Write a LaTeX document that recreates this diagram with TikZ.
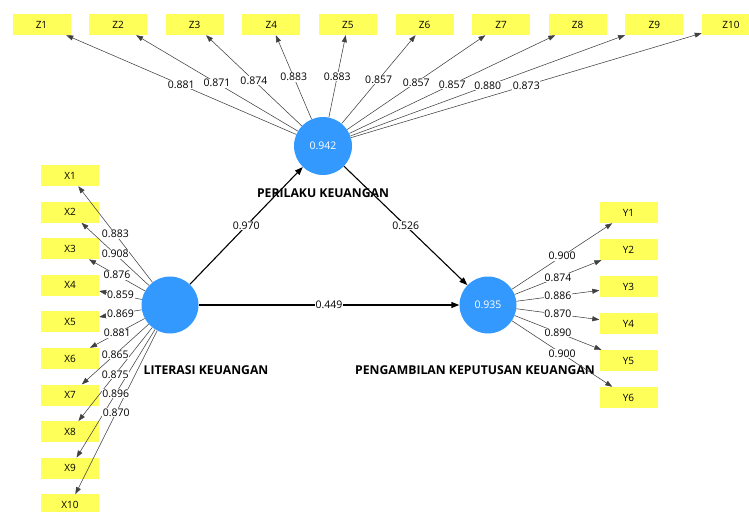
\documentclass[tikz,border=0pt]{standalone}
\usepackage{fontspec}
\setmainfont{Open Sans}
\usetikzlibrary{arrows.meta}
\definecolor{lvblue}{RGB}{51,153,255}
\definecolor{mvyellow}{RGB}{255,255,90}
\begin{document}
\begin{tikzpicture}[x=1pt,y=-1pt,
  ind/.style={fill=mvyellow, minimum width=58pt, minimum height=21pt, inner sep=0pt, font=\fontsize{10}{12}\selectfont},
  lv/.style={circle, fill=lvblue, minimum size=57pt, inner sep=0pt, text=white, font=\fontsize{10.5}{12}\selectfont},
  load/.style={draw=black!75, line width=0.55pt, -{Triangle[length=7pt,width=5pt]}},
  struct/.style={draw=black, line width=1.1pt, -{Triangle[length=8pt,width=6pt]}},
  lbl/.style={fill=white, inner sep=0.6pt, font=\fontsize{10.5}{12}\selectfont},
  lvname/.style={font=\bfseries\fontsize{12.2}{14}\selectfont}
]
\useasboundingbox (0,0) rectangle (749,511);
\clip (0,0) rectangle (749,511);

% indicator boxes
\foreach \i in {1,...,10} {
  \node[ind] (z\i) at ({41.5+76.6*(\i-1)},24.5) {Z\i};
  \node[ind] (x\i) at (70,{175.5+36.6*(\i-1)}) {X\i};
}
\foreach \i in {1,...,6} {
  \node[ind] (y\i) at (628.5,{212.5+37*(\i-1)}) {Y\i};
}

% latent variables
\node[lv, minimum size=58pt] (per) at (323,146) {0.942};
\node[lv] (lit) at (170,305) {};
\node[lv] (pkk) at (488,305) {0.935};

% names
\node[lvname] (nper) at (323,193) {PERILAKU KEUANGAN};
\node[lvname] (nlit) at (206,370) {LITERASI KEUANGAN};
\node[lvname] (npkk) at (475,370) {PENGAMBILAN KEPUTUSAN KEUANGAN};

% loadings lines
\foreach \i in {1,...,10} {
  \draw[load] (per) -- (z\i);
  \draw[load] (lit) -- (x\i);
}
\foreach \i in {1,...,6} {
  \draw[load] (pkk) -- (y\i);
}

% structural paths
\draw[struct] (lit) -- (per);
\draw[struct] (per) -- (pkk);
\draw[struct] (lit) -- (pkk);

% labels
\foreach \i/\v in {1/0.881,2/0.871,3/0.874,4/0.883,5/0.883,6/0.857,7/0.857,8/0.857,9/0.880,10/0.873} {
  \path (per) -- (z\i) node[lbl, midway] {\v};
}
\foreach \i/\v in {1/0.883,2/0.908,3/0.876,4/0.859,5/0.869,6/0.881,7/0.865,8/0.875,9/0.896,10/0.870} {
  \path (lit) -- (x\i) node[lbl, midway] {\v};
}
\foreach \i/\v in {1/0.900,2/0.874,3/0.886,4/0.870,5/0.890,6/0.900} {
  \path (pkk) -- (y\i) node[lbl, midway] {\v};
}
\path (lit) -- (per) node[lbl, midway] {0.970};
\path (per) -- (pkk) node[lbl, midway] {0.526};
\path (lit) -- (pkk) node[lbl, midway] {0.449};
\end{tikzpicture}
\end{document}
